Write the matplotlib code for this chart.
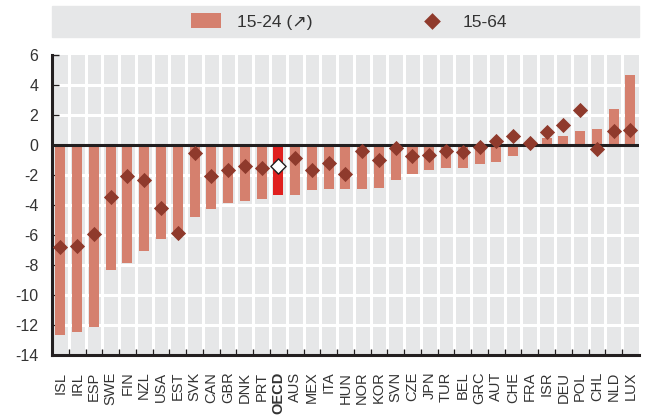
import matplotlib.pyplot as plt
from matplotlib.patches import Rectangle
from matplotlib.ticker import MultipleLocator, FixedLocator
import numpy as np

plt.rcParams['font.family'] = ['Liberation Sans', 'DejaVu Sans']
plt.rcParams['axes.unicode_minus'] = False

# change in employment rate by age group
countries = ['ISL', 'IRL', 'ESP', 'SWE', 'FIN', 'NZL', 'USA', 'EST', 'SVK', 'CAN',
             'GBR', 'DNK', 'PRT', 'OECD', 'AUS', 'MEX', 'ITA', 'HUN', 'NOR', 'KOR',
             'SVN', 'CZE', 'JPN', 'TUR', 'BEL', 'GRC', 'AUT', 'CHE', 'FRA', 'ISR',
             'DEU', 'POL', 'CHL', 'NLD', 'LUX']
youth = [-12.67, -12.5, -12.15, -8.3, -7.88, -7.06, -6.27, -5.75, -4.83, -4.24,
         -3.86, -3.75, -3.62, -3.31, -3.31, -3.02, -2.96, -2.91, -2.91, -2.83,
         -2.3, -1.96, -1.63, -1.5, -1.5, -1.24, -1.1, -0.71, 0.0, 0.48,
         0.6, 0.93, 1.06, 2.38, 4.64]
total = [-6.82, -6.7, -5.94, -3.47, -2.07, -2.3, -4.17, -5.85, -0.55, -2.07,
         -1.63, -1.41, -1.54, -1.37, -0.86, -1.63, -1.19, -1.92, -0.42, -0.97,
         -0.22, -0.73, -0.64, -0.4, -0.46, -0.13, 0.24, 0.6, 0.15, 0.9,
         1.37, 2.34, -0.26, 0.95, 1.01]

bar_col = '#d5806e'
dot_col = '#8f3a2c'
dark = '#231f20'
txt = '#333333'

fig = plt.figure(figsize=(6.47, 4.2), dpi=100)
ax = fig.add_axes([0.0804, 0.1548, 0.907, 0.714])
ax.set_facecolor('#e6e7e8')

x = np.arange(len(countries))
oecd = countries.index('OECD')
cols = [bar_col] * len(countries)
cols[oecd] = '#e0201f'
bars = ax.bar(x, youth, width=0.6, color=cols, zorder=3)

others = [i for i in x if i != oecd]
pts = ax.scatter([x[i] for i in others], [total[i] for i in others], marker='D', s=60,
                 color=dot_col, zorder=5, linewidths=0)
ax.scatter([x[oecd]], [total[oecd]], marker='D', s=60, facecolor='white',
           edgecolor=dark, linewidths=1.0, zorder=6)

ax.set_xlim(-0.5, len(countries) - 0.5)
ax.set_ylim(-14, 6)

# white cell grid
for b in np.arange(0.5, len(countries) - 0.5):
    ax.axvline(b, color='white', lw=2.2, zorder=1)
for v in range(-12, 6, 2):
    ax.axhline(v, color='white', lw=2.2, zorder=1)
ax.axhline(0, color=dark, lw=2.2, zorder=4)

for s in ['top', 'right']:
    ax.spines[s].set_visible(False)
for s in ['left', 'bottom']:
    ax.spines[s].set_color(dark)
    ax.spines[s].set_linewidth(2.2)

ax.yaxis.set_major_locator(MultipleLocator(2))
ax.tick_params(axis='y', direction='in', length=5, width=1, color=dark,
               labelsize=11.5, labelcolor=txt, pad=10)
ax.set_xticks(x)
ax.set_xticklabels(countries, rotation=90, fontsize=10.5, color=txt)
ax.xaxis.set_minor_locator(FixedLocator(np.arange(0.5, len(countries) - 0.5)))
ax.tick_params(axis='x', which='major', length=0, pad=12)
ax.tick_params(axis='x', which='minor', direction='in', length=4, width=1, color=dark)
ax.get_xticklabels()[oecd].set_fontweight('bold')

# legend band
fig.patches.append(Rectangle((52 / 647, 1 - 37 / 420), 587 / 647, 31 / 420,
                             transform=fig.transFigure, color='#e6e7e8', zorder=0))
fig.legend([bars, pts], ['15-24 (\u2197)', '15-64'], loc='center',
           bbox_to_anchor=(0.539, 0.949), ncol=2, frameon=False, fontsize=12.5,
           labelcolor=txt, columnspacing=6.0, handlelength=1.75, handleheight=0.9,
           handletextpad=0.9, markerscale=1.1)

plt.savefig('out.png', dpi=100)
